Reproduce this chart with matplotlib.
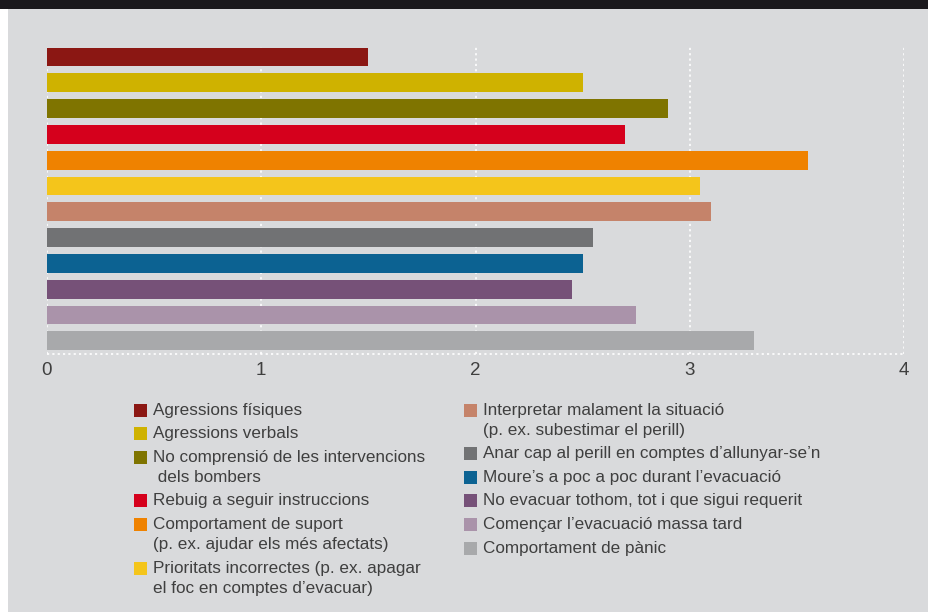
import matplotlib.pyplot as plt
from matplotlib.patches import Rectangle

# categories (top to bottom) and values
labels = [
    "Agressions físiques",
    "Agressions verbals",
    "No comprensió de les intervencions\n dels bombers",
    "Rebuig a seguir instruccions",
    "Comportament de suport\n(p. ex. ajudar els més afectats)",
    "Prioritats incorrectes (p. ex. apagar\nel foc en comptes d’evacuar)",
    "Interpretar malament la situació\n(p. ex. subestimar el perill)",
    "Anar cap al perill en comptes d’allunyar-se’n",
    "Moure’s a poc a poc durant l’evacuació",
    "No evacuar tothom, tot i que sigui requerit",
    "Començar l’evacuació massa tard",
    "Comportament de pànic",
]
values = [1.5, 2.5, 2.9, 2.7, 3.55, 3.05, 3.1, 2.55, 2.5, 2.45, 2.75, 3.3]
colors = ["#8B1713", "#CFB200", "#7F7400", "#D5001C", "#EF8200", "#F4C51B",
          "#C5836A", "#717274", "#0C6292", "#765178", "#AA93AA", "#A8A9AB"]
xticks = [0, 1, 2, 3, 4]

BG = "#D9DADC"
TXT = "#3F3F3F"
plt.rcParams['font.family'] = ['Liberation Sans', 'DejaVu Sans']

W, H = 929, 612
fig = plt.figure(figsize=(W / 100, H / 100), dpi=100, facecolor=BG)

# white strip on the left and black title band on top
fig.patches.append(Rectangle((0, 0), 8 / W, 1, transform=fig.transFigure,
                             facecolor="white", edgecolor="none", zorder=0))
fig.patches.append(Rectangle((0, 1 - 9 / H), 1, 9 / H, transform=fig.transFigure,
                             facecolor="#1A181C", edgecolor="none", zorder=1))

ax = fig.add_axes([47 / W, 1 - 354 / H, (904 - 47) / W, (354 - 47) / H])
ax.set_facecolor(BG)

pos = list(range(len(values)))
ax.barh(pos, values, height=0.73, color=colors, zorder=3)
ax.set_xlim(0, 4)
ax.set_ylim(11.51, -0.39)

dots = (0, (1.3, 1.9))
for x in xticks:
    ax.axvline(x, color="white", lw=1.2, linestyle=dots, zorder=1)
ax.axhline(11.51, color="white", lw=1.2, linestyle=dots, zorder=1, clip_on=False)

for s in ax.spines.values():
    s.set_visible(False)
ax.set_yticks([])
ax.set_xticks(xticks)
ax.set_xticklabels([str(x) for x in xticks])
ax.tick_params(axis="x", length=0, pad=6, labelsize=13.5, labelcolor=TXT)

# legend in two columns, square aligned with first line
def draw_column(items, x_sq, x_txt, y0):
    y = y0
    for lab, col in items:
        fig.patches.append(Rectangle((x_sq / W, 1 - (y + 6.5) / H), 13 / W, 13 / H,
                                     transform=fig.transFigure, facecolor=col,
                                     edgecolor="none"))
        lines = lab.split("\n")
        for k, line in enumerate(lines):
            fig.text(x_txt / W, 1 - (y + 20 * k) / H, line, fontsize=12.3,
                     color=TXT, va="center", ha="left")
        y += 20 * (len(lines) - 1) + 23.6

pairs = list(zip(labels, colors))
draw_column(pairs[:6], 134, 153, 410)
draw_column(pairs[6:], 464, 483, 410)

fig.savefig("out.png", dpi=100, facecolor=BG)
